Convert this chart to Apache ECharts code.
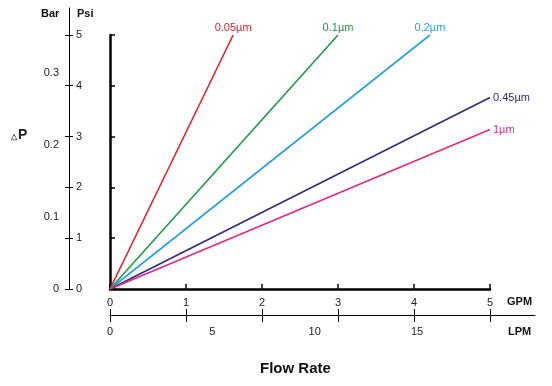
<!DOCTYPE html>
<html>
<head>
<meta charset="utf-8">
<script src="https://cdn.jsdelivr.net/npm/echarts@6/dist/echarts.min.js"></script>
<style>html,body{margin:0;padding:0;background:#fff}#c{width:552px;height:386px}</style>
</head>
<body>
<div id="c"></div>
<script>
// ---- data ----
var seriesNames = ['0.05µm', '0.1µm', '0.2µm', '0.45µm', '1µm'];
var seriesColors = ['#e3222b', '#1f9848', '#2aa0da', '#2e2c7c', '#e22882'];
// each line: [GPM, Psi] points (origin -> end)
var line005 = [[0, 0], [1.62, 5]];
var line01 = [[0, 0], [3.0, 5]];
var line02 = [[0, 0], [4.21, 5]];
var line045 = [[0, 0], [5.0, 3.77]];
var line1 = [[0, 0], [5.0, 3.14]];
var gpmTicks = [0, 1, 2, 3, 4, 5];
var psiTicks = [0, 1, 2, 3, 4, 5];
var barTicks = [0, 0.1, 0.2, 0.3];
var lpmTicks = [0, 5, 10, 15];

var FONT = 'Liberation Sans, Arial, Helvetica, sans-serif';
var lines = [line005, line01, line02, line045, line1];
var labelPos = ['top', 'top', 'top', 'right', 'right'];

var series = lines.map(function (pts, i) {
  var data = pts.map(function (p, j) {
    if (j === pts.length - 1) {
      return {
        value: p,
        label: {
          show: true, position: labelPos[i], distance: labelPos[i] === 'top' ? 2 : 3,
          formatter: seriesNames[i], color: seriesColors[i], fontSize: 11, fontFamily: FONT
        }
      };
    }
    return { value: p };
  });
  return {
    type: 'line', name: seriesNames[i], xAxisIndex: 0, yAxisIndex: 0,
    data: data, symbol: 'circle', symbolSize: 0, showSymbol: true,
    lineStyle: { color: seriesColors[i], width: 1.6 },
    itemStyle: { color: seriesColors[i] },
    silent: true, animation: false
  };
});

var tickLabel = { fontSize: 11, color: '#222', fontFamily: FONT };
var hiddenAxis = { show: false, min: 0, max: 1 };

var option = {
  animation: false,
  textStyle: { fontFamily: FONT },
  title: [
    { left: 11, top: 128, text: '{a|△}{b|P}', textStyle: { rich: {
      a: { fontSize: 8, color: '#444', fontFamily: FONT, padding: [3, 1, 0, 0] },
      b: { fontSize: 14, fontWeight: 'bold', color: '#222', fontFamily: FONT } } } },
    { left: 260, top: 361, text: 'Flow Rate', textStyle: { fontSize: 15, fontWeight: 'bold', color: '#111', fontFamily: FONT } },
    { left: 41, top: 8, text: 'Bar', textStyle: { fontSize: 11, fontWeight: 'bold', color: '#111', fontFamily: FONT } },
    { left: 77, top: 8, text: 'Psi', textStyle: { fontSize: 11, fontWeight: 'bold', color: '#111', fontFamily: FONT } },
    { left: 507, top: 296, text: 'GPM', textStyle: { fontSize: 11, fontWeight: 'bold', color: '#111', fontFamily: FONT } },
    { left: 508, top: 326, text: 'LPM', textStyle: { fontSize: 11, fontWeight: 'bold', color: '#111', fontFamily: FONT } }
  ].map(function (t) { t.padding = 0; return t; }),
  grid: [
    { left: 110, right: 62, top: 35, bottom: 97 },
    { left: 69, width: 10, top: 8, bottom: 97 },
    { left: 110, right: 17, top: 250, bottom: 71 }
  ],
  xAxis: [
    { gridIndex: 0, type: 'value', min: 0, max: 5, interval: 1, position: 'bottom',
      axisLine: { onZero: false, lineStyle: { color: '#000', width: 2.5 } },
      axisTick: { inside: true, length: 5, lineStyle: { color: '#000', width: 1.5 } },
      axisLabel: Object.assign({ margin: 8, customValues: gpmTicks }, tickLabel),
      splitLine: { show: false } },
    Object.assign({ gridIndex: 1 }, hiddenAxis),
    { gridIndex: 2, type: 'value', min: 0, max: 5.592, position: 'bottom',
      axisLine: { onZero: false, lineStyle: { color: '#000', width: 1 } },
      axisTick: { inside: false, length: 7, customValues: gpmTicks, lineStyle: { color: '#000', width: 1 } },
      axisLabel: { show: false }, splitLine: { show: false } },
    { gridIndex: 2, type: 'value', min: 0, max: 5.592, position: 'bottom',
      axisLine: { show: false, onZero: false },
      axisTick: { inside: true, length: 6, customValues: gpmTicks, lineStyle: { color: '#000', width: 1 } },
      axisLabel: { show: false }, splitLine: { show: false } },
    { gridIndex: 2, type: 'value', min: 0, max: 20.76, position: 'bottom',
      axisLine: { show: false, onZero: false }, axisTick: { show: false },
      axisLabel: Object.assign({ margin: 11, customValues: lpmTicks }, tickLabel),
      splitLine: { show: false } }
  ],
  yAxis: [
    { gridIndex: 0, type: 'value', min: 0, max: 5, interval: 1, position: 'left',
      axisLine: { onZero: false, lineStyle: { color: '#000', width: 2.5 } },
      axisTick: { inside: true, length: 5, lineStyle: { color: '#000', width: 1.5 } },
      axisLabel: { show: false }, splitLine: { show: false } },
    { gridIndex: 1, type: 'value', min: 0, max: 5.53, position: 'left',
      axisLine: { onZero: false, lineStyle: { color: '#000', width: 1 } },
      axisTick: { inside: false, length: 4, customValues: psiTicks, lineStyle: { color: '#000', width: 1 } },
      axisLabel: { show: false }, splitLine: { show: false } },
    { gridIndex: 1, type: 'value', min: 0, max: 5.53, position: 'left',
      axisLine: { show: false, onZero: false },
      axisTick: { inside: true, length: 4, customValues: psiTicks, lineStyle: { color: '#000', width: 1 } },
      axisLabel: Object.assign({ inside: true, margin: 7, customValues: psiTicks }, tickLabel),
      splitLine: { show: false } },
    { gridIndex: 1, type: 'value', min: 0, max: 0.39, position: 'left',
      axisLine: { show: false, onZero: false }, axisTick: { show: false },
      axisLabel: Object.assign({ margin: 10, customValues: barTicks }, tickLabel),
      splitLine: { show: false } },
    Object.assign({ gridIndex: 2 }, hiddenAxis)
  ],
  series: series
};

var chart = echarts.init(document.getElementById('c'), null, { renderer: 'canvas' });
chart.setOption(option);
</script>
</body>
</html>
